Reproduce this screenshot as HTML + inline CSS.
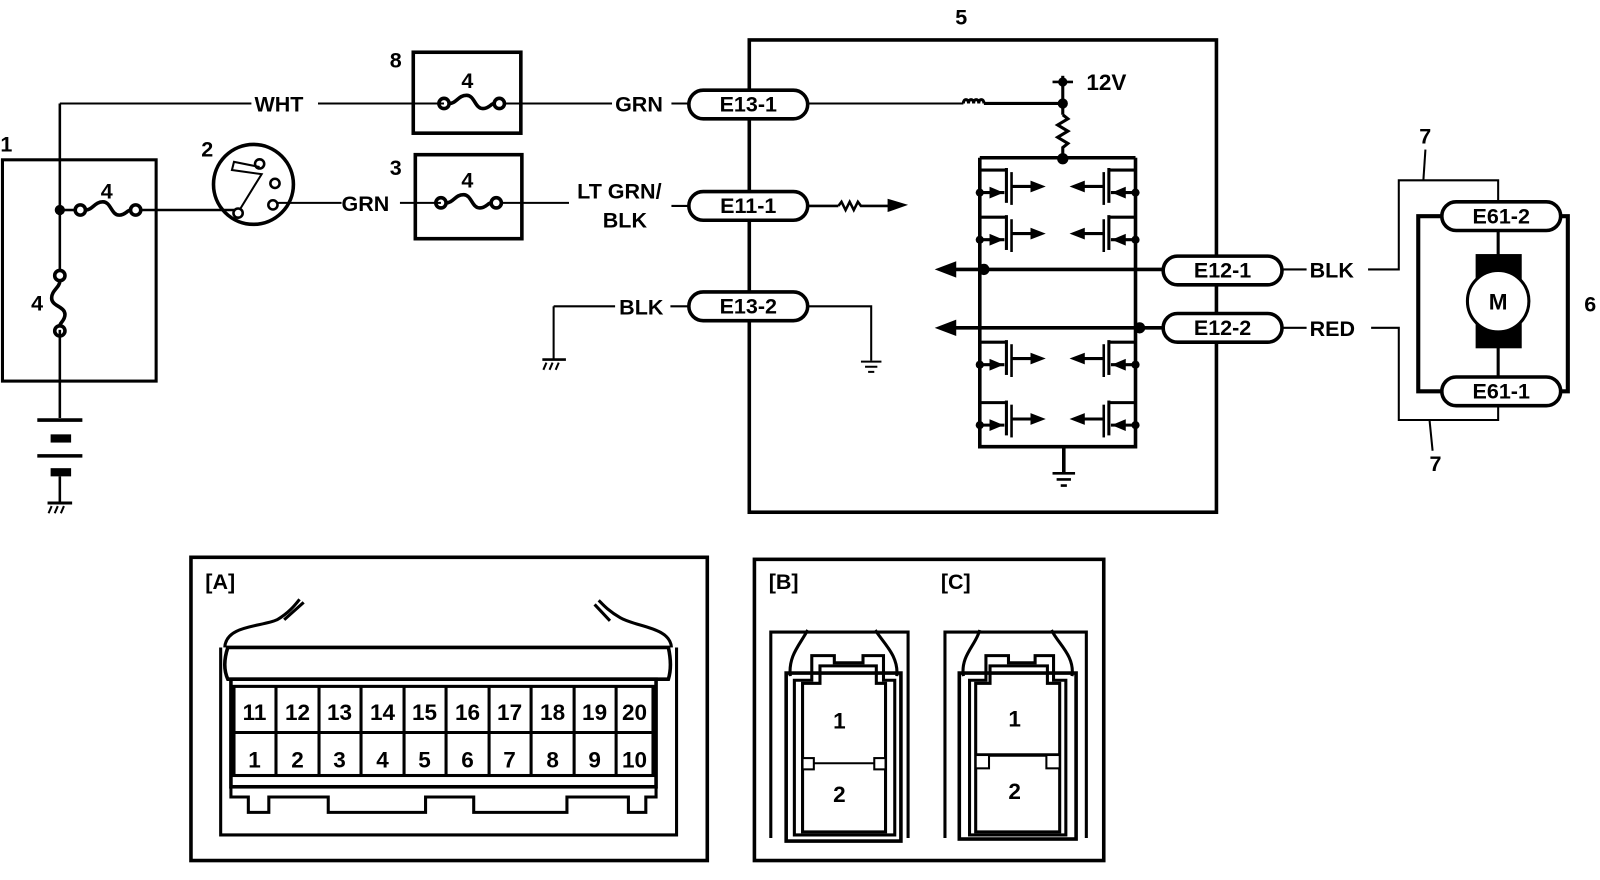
<!DOCTYPE html>
<html><head><meta charset="utf-8"><style>
html,body{margin:0;padding:0;background:#fff;width:1600px;height:880px;overflow:hidden}
svg{display:block}
text{font-family:"Liberation Sans",Arial,sans-serif;font-weight:bold;fill:#000}
</style></head><body>
<svg width="1600" height="880" viewBox="0 0 1561 859" xmlns="http://www.w3.org/2000/svg">
<defs>
<g id="tl" fill="none" stroke="#000">
  <path d="M0,-16 H26" stroke-width="3"/>
  <path d="M26,-18 V16" stroke-width="3"/>
  <path d="M31,-14 V18" stroke-width="2.5"/>
  <path d="M0,6 H24" stroke-width="3"/>
  <path d="M10,1 L22,6 L10,11 Z" fill="#000" stroke-width="1"/>
  <path d="M31,0 H52" stroke-width="3"/>
  <path d="M50,-5 L63,0 L50,5 Z" fill="#000" stroke-width="1"/>
  <circle cx="0" cy="6" r="4" fill="#000" stroke="none"/>
</g>
<g id="fh" fill="none" stroke="#000" stroke-width="3.5">
  <circle cx="0" cy="0" r="5"/>
  <circle cx="54" cy="0" r="5"/>
  <path d="M5,0 C12,0 14,-8 22,-8 C30,-8 30,5 38,5 C44,5 46,0 49,0"/>
</g>
<g id="conn">
  <rect x="0" y="0" width="116" height="28" rx="14" fill="#fff" stroke="#000" stroke-width="3.5"/>
</g>
</defs>

<!-- Box 1 -->
<rect x="2" y="156" width="150" height="216" fill="none" stroke="#000" stroke-width="3"/>
<text x="0" y="148" font-size="21">1</text>
<line x1="58" y1="101" x2="58" y2="265" stroke="#000" stroke-width="2.5"/>
<line x1="58" y1="322" x2="58" y2="408" stroke="#000" stroke-width="2.5"/>
<line x1="58" y1="101" x2="245" y2="101" stroke="#000" stroke-width="2"/>
<line x1="310" y1="101" x2="433" y2="101" stroke="#000" stroke-width="2"/>
<text x="248" y="109" font-size="21">WHT</text>
<circle cx="58" cy="205" r="5" fill="#000"/>
<line x1="58" y1="205" x2="72" y2="205" stroke="#000" stroke-width="2.5"/>
<use href="#fh" x="78" y="205"/>
<text x="98" y="194" font-size="21">4</text>
<use href="#fh" transform="translate(58,269) rotate(90) scale(1,-1)"/>
<text x="30" y="303" font-size="21">4</text>
<line x1="137" y1="205" x2="228" y2="205" stroke="#000" stroke-width="2.5"/>
<!-- battery -->
<line x1="36" y1="410" x2="80" y2="410" stroke="#000" stroke-width="3.5"/>
<rect x="49" y="424" width="20" height="8" fill="#000"/>
<line x1="36" y1="445" x2="80" y2="445" stroke="#000" stroke-width="3.5"/>
<rect x="49" y="457" width="20" height="8" fill="#000"/>
<line x1="58" y1="465" x2="58" y2="491" stroke="#000" stroke-width="2.5"/>
<line x1="46" y1="491" x2="70" y2="491" stroke="#000" stroke-width="3"/>
<path d="M50,494 l-3,7 M56,494 l-3,7 M62,494 l-3,7" stroke="#000" stroke-width="2"/>

<!-- Switch 2 -->
<text x="196" y="153" font-size="21">2</text>
<circle cx="247" cy="180" r="39" fill="none" stroke="#000" stroke-width="3.5"/>
<circle cx="232" cy="208" r="4.5" fill="none" stroke="#000" stroke-width="2.5"/>
<circle cx="253" cy="160" r="4.5" fill="none" stroke="#000" stroke-width="2.5"/>
<circle cx="268" cy="179" r="4.5" fill="none" stroke="#000" stroke-width="2.5"/>
<circle cx="266" cy="200" r="4.5" fill="none" stroke="#000" stroke-width="2.5"/>
<path d="M234,204 L250,178 L255,170 L226,166 L228,158 L253,163" fill="none" stroke="#000" stroke-width="2"/>
<line x1="271" y1="198" x2="333" y2="198" stroke="#000" stroke-width="2"/>
<text x="333" y="206" font-size="21">GRN</text>
<line x1="390" y1="198" x2="430" y2="198" stroke="#000" stroke-width="2"/>

<!-- Box 3 -->
<rect x="405" y="151" width="104" height="82" fill="none" stroke="#000" stroke-width="3.5"/>
<text x="380" y="171" font-size="21">3</text>
<use href="#fh" x="430" y="198"/>
<text x="450" y="183" font-size="21">4</text>
<line x1="489" y1="198" x2="555" y2="198" stroke="#000" stroke-width="2"/>
<text x="563" y="194" font-size="21">LT GRN/</text>
<text x="588" y="222" font-size="21">BLK</text>

<!-- Box 8 -->
<rect x="403" y="51" width="105" height="79" fill="none" stroke="#000" stroke-width="3.5"/>
<text x="380" y="66" font-size="21">8</text>
<text x="450" y="86" font-size="21">4</text>
<use href="#fh" x="433" y="101"/>
<line x1="492" y1="101" x2="597" y2="101" stroke="#000" stroke-width="2"/>
<text x="600" y="109" font-size="21">GRN</text>

<!-- Box 5 -->
<rect x="731" y="39" width="456" height="461" fill="none" stroke="#000" stroke-width="3.5"/>
<text x="932" y="24" font-size="21">5</text>
<line x1="655" y1="101" x2="672" y2="101" stroke="#000" stroke-width="2"/>
<line x1="655" y1="201" x2="672" y2="201" stroke="#000" stroke-width="2"/>
<use href="#conn" x="672" y="88"/><text x="730" y="109" font-size="21" text-anchor="middle">E13-1</text>
<use href="#conn" x="672" y="187"/><text x="730" y="208" font-size="21" text-anchor="middle">E11-1</text>
<use href="#conn" x="672" y="285"/><text x="730" y="306" font-size="21" text-anchor="middle">E13-2</text>
<line x1="788" y1="101" x2="940" y2="101" stroke="#000" stroke-width="2"/>
<path d="M940,101 c0,-5 5,-5 5,0 c0,-5 5,-5 5,0 c0,-5 5,-5 5,0 c0,-5 5,-5 5,0" fill="none" stroke="#000" stroke-width="3"/>
<line x1="960" y1="101" x2="1037" y2="101" stroke="#000" stroke-width="3"/>
<line x1="1037" y1="74" x2="1037" y2="112" stroke="#000" stroke-width="3"/>
<line x1="1027" y1="80" x2="1047" y2="80" stroke="#000" stroke-width="2.5"/>
<circle cx="1037" cy="80" r="4.5" fill="#000"/>
<circle cx="1037" cy="101" r="5" fill="#000"/>
<text x="1060" y="88" font-size="22">12V</text>
<path d="M1037,112 l5,4 l-10,6 l10,6 l-10,6 l10,6 l-5,4 V155" fill="none" stroke="#000" stroke-width="3"/>
<circle cx="1037" cy="155" r="5.5" fill="#000"/>
<line x1="788" y1="201" x2="818" y2="201" stroke="#000" stroke-width="2.5"/>
<path d="M818,201 l3,-4 l4,8 l4,-8 l4,8 l4,-8 l3,4 H868" fill="none" stroke="#000" stroke-width="2.5"/>
<path d="M866,194 L886,200 L866,207 Z" fill="#000"/>
<line x1="540" y1="299" x2="600" y2="299" stroke="#000" stroke-width="2"/>
<text x="604" y="307" font-size="21">BLK</text>
<line x1="654" y1="299" x2="672" y2="299" stroke="#000" stroke-width="2"/>
<line x1="540" y1="299" x2="540" y2="351" stroke="#000" stroke-width="2"/>
<line x1="529" y1="351" x2="552" y2="351" stroke="#000" stroke-width="2.5"/>
<path d="M533,354 l-3,7 M539,354 l-3,7 M545,354 l-3,7" stroke="#000" stroke-width="2"/>
<path d="M788,299 H850 V352" fill="none" stroke="#000" stroke-width="2"/>
<path d="M840,353 H860 M844,358 H856 M847,363 H853" stroke="#000" stroke-width="2"/>

<!-- H-bridge -->
<path d="M956,154 H1108 M956,154 V436 H1108 V154" fill="none" stroke="#000" stroke-width="3.5"/>
<use href="#tl" x="956" y="182"/>
<use href="#tl" x="956" y="228"/>
<use href="#tl" x="956" y="350"/>
<use href="#tl" x="956" y="409"/>
<use href="#tl" transform="translate(1108,182) scale(-1,1)"/>
<use href="#tl" transform="translate(1108,228) scale(-1,1)"/>
<use href="#tl" transform="translate(1108,350) scale(-1,1)"/>
<use href="#tl" transform="translate(1108,409) scale(-1,1)"/>
<line x1="928" y1="263" x2="1135" y2="263" stroke="#000" stroke-width="3.5"/>
<line x1="928" y1="320" x2="1135" y2="320" stroke="#000" stroke-width="3.5"/>
<path d="M912,263 L933,255 L933,271 Z M912,320 L933,312 L933,328 Z" fill="#000"/>
<circle cx="960" cy="263" r="5.5" fill="#000"/>
<circle cx="1112" cy="320" r="5.5" fill="#000"/>
<line x1="1038" y1="436" x2="1038" y2="462" stroke="#000" stroke-width="3.5"/>
<path d="M1027,462 H1049 M1031,468 H1045 M1035,474 H1041" stroke="#000" stroke-width="2.5"/>
<use href="#conn" x="1135" y="250"/><text x="1193" y="271" font-size="21" text-anchor="middle">E12-1</text>
<use href="#conn" x="1135" y="306"/><text x="1193" y="327" font-size="21" text-anchor="middle">E12-2</text>
<line x1="1251" y1="263" x2="1275" y2="263" stroke="#000" stroke-width="2"/>
<line x1="1251" y1="320" x2="1275" y2="320" stroke="#000" stroke-width="2"/>
<text x="1278" y="271" font-size="21">BLK</text>
<text x="1278" y="328" font-size="21">RED</text>

<!-- Motor -->
<path d="M1335,263 H1365 V176 H1462 V197" fill="none" stroke="#000" stroke-width="2"/>
<path d="M1338,320 H1365 V410 H1462 V396" fill="none" stroke="#000" stroke-width="2"/>
<line x1="1391" y1="146" x2="1389" y2="176" stroke="#000" stroke-width="2"/>
<line x1="1395" y1="410" x2="1398" y2="440" stroke="#000" stroke-width="2"/>
<path d="M1408,211 H1384 V382 H1408 M1522,211 H1530 V382 H1522" fill="none" stroke="#000" stroke-width="4"/>
<use href="#conn" x="1407" y="197"/><text x="1465" y="218" font-size="21" text-anchor="middle">E61-2</text>
<use href="#conn" x="1407" y="368"/><text x="1465" y="389" font-size="21" text-anchor="middle">E61-1</text>
<line x1="1462" y1="225" x2="1462" y2="368" stroke="#000" stroke-width="3"/>
<rect x="1440" y="248" width="45" height="92" fill="#000"/>
<circle cx="1462" cy="294" r="30" fill="#fff" stroke="#000" stroke-width="3"/>
<text x="1462" y="302" font-size="22" text-anchor="middle">M</text>
<text x="1546" y="304" font-size="21">6</text>
<text x="1385" y="140" font-size="21">7</text>
<text x="1395" y="460" font-size="21">7</text>

<!-- Box A -->
<rect x="186" y="544" width="504" height="296" fill="none" stroke="#000" stroke-width="3.5"/>
<text x="200" y="575" font-size="21" font-weight="normal">[A]</text>
<path d="M215,632 V815 H660 V632" fill="none" stroke="#000" stroke-width="3"/>
<path d="M222,632 H652 Q656,650 652,663 H222 Q216,650 222,632 Z" fill="#fff" stroke="#000" stroke-width="3.5"/>
<path d="M219,632 C220,610 255,612 270,605 C282,598 288,590 292,585" fill="none" stroke="#000" stroke-width="3"/>
<path d="M277,605 L296,588" stroke="#000" stroke-width="3"/>
<path d="M655,632 C654,612 620,612 605,603 C593,596 588,590 584,586" fill="none" stroke="#000" stroke-width="3"/>
<path d="M595,606 L580,590" stroke="#000" stroke-width="3"/>
<rect x="225" y="663" width="415" height="105" fill="none" stroke="#000" stroke-width="3.5"/>
<rect x="228" y="670" width="409" height="87" fill="none" stroke="#000" stroke-width="3"/>
<line x1="228" y1="715" x2="637" y2="715" stroke="#000" stroke-width="3"/>
<g stroke="#000" stroke-width="3">
<line x1="269" y1="670" x2="269" y2="757"/><line x1="311" y1="670" x2="311" y2="757"/>
<line x1="352" y1="670" x2="352" y2="757"/><line x1="394" y1="670" x2="394" y2="757"/>
<line x1="435" y1="670" x2="435" y2="757"/><line x1="477" y1="670" x2="477" y2="757"/>
<line x1="518" y1="670" x2="518" y2="757"/><line x1="560" y1="670" x2="560" y2="757"/>
<line x1="601" y1="670" x2="601" y2="757"/>
</g>
<path d="M225,768 V778 H242 V793 H262 V778 H320 V793 H415 V778 H462 V793 H553 V778 H613 V793 H630 V778 H640 V768" fill="none" stroke="#000" stroke-width="3"/>
<g font-size="22" text-anchor="middle">
<text x="248" y="703">11</text><text x="290" y="703">12</text><text x="331" y="703">13</text><text x="373" y="703">14</text><text x="414" y="703">15</text><text x="456" y="703">16</text><text x="497" y="703">17</text><text x="539" y="703">18</text><text x="580" y="703">19</text><text x="619" y="703">20</text>
<text x="248" y="749">1</text><text x="290" y="749">2</text><text x="331" y="749">3</text><text x="373" y="749">4</text><text x="414" y="749">5</text><text x="456" y="749">6</text><text x="497" y="749">7</text><text x="539" y="749">8</text><text x="580" y="749">9</text><text x="619" y="749">10</text>
</g>

<!-- Box B/C -->
<rect x="736" y="546" width="341" height="294" fill="none" stroke="#000" stroke-width="3.5"/>
<text x="750" y="575" font-size="21" font-weight="normal">[B]</text>
<text x="918" y="575" font-size="21" font-weight="normal">[C]</text>
<!-- B -->
<path d="M752,818 V617 H886 V818" fill="none" stroke="#000" stroke-width="3"/>
<rect x="767" y="657" width="112" height="164" fill="none" stroke="#000" stroke-width="3.5"/>
<path d="M775,815 V664 H792 V640 H814 V647 H842 V640 H862 V664 H873 V815 Z" fill="none" stroke="#000" stroke-width="3"/>
<path d="M783,812 V667 H800 V650 H855 V667 H864 V812 Z" fill="none" stroke="#000" stroke-width="3"/>
<path d="M771,660 C769,640 780,630 788,615" fill="none" stroke="#000" stroke-width="3"/>
<path d="M875,660 C877,640 862,628 854,615" fill="none" stroke="#000" stroke-width="3"/>
<line x1="783" y1="745" x2="864" y2="745" stroke="#000" stroke-width="2"/>
<rect x="783" y="740" width="11" height="11" fill="#fff" stroke="#000" stroke-width="2"/>
<rect x="853" y="740" width="11" height="11" fill="#fff" stroke="#000" stroke-width="2"/>
<text x="819" y="711" font-size="22" text-anchor="middle">1</text>
<text x="819" y="783" font-size="22" text-anchor="middle">2</text>
<!-- C -->
<path d="M922,818 V617 H1060 V818" fill="none" stroke="#000" stroke-width="3"/>
<rect x="936" y="657" width="114" height="162" fill="none" stroke="#000" stroke-width="3.5"/>
<path d="M946,815 V664 H962 V640 H984 V647 H1010 V640 H1028 V664 H1040 V815 Z" fill="none" stroke="#000" stroke-width="3"/>
<path d="M952,812 V667 H966 V650 H1022 V667 H1034 V812 Z" fill="none" stroke="#000" stroke-width="3"/>
<path d="M940,660 C937,640 952,630 956,615" fill="none" stroke="#000" stroke-width="3"/>
<path d="M1046,660 C1049,640 1032,628 1026,615" fill="none" stroke="#000" stroke-width="3"/>
<line x1="952" y1="737" x2="1034" y2="737" stroke="#000" stroke-width="3.5"/>
<rect x="952" y="737" width="13" height="13" fill="#fff" stroke="#000" stroke-width="2"/>
<rect x="1021" y="737" width="13" height="13" fill="#fff" stroke="#000" stroke-width="2"/>
<text x="990" y="709" font-size="22" text-anchor="middle">1</text>
<text x="990" y="780" font-size="22" text-anchor="middle">2</text>
</svg>
</body></html>
